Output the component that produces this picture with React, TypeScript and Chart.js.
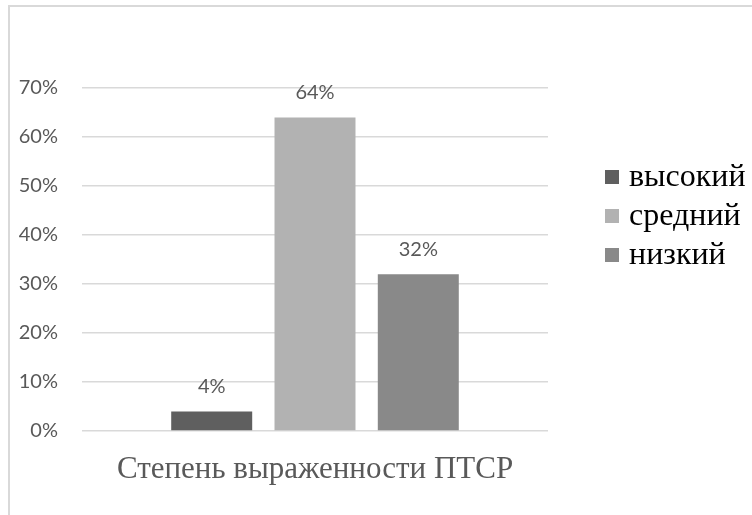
import React, { useEffect, useRef } from "react";
import { Chart, registerables } from "chart.js";

Chart.register(...registerables);

const categories = ["Степень выраженности ПТСР"];
const seriesNames = ["высокий", "средний", "низкий"];
const seriesValues = [[4], [64], [32]];
const seriesColors = ["#5f5f5f", "#b2b2b2", "#898989"];
const yTicks = [0, 10, 20, 30, 40, 50, 60, 70];

const dataLabels = {
  id: "dataLabels",
  afterDatasetsDraw(chart: any) {
    const ctx = chart.ctx;
    ctx.save();
    ctx.font = "20px Lato";
    ctx.fillStyle = "#595959";
    ctx.textAlign = "center";
    ctx.textBaseline = "middle";
    chart.data.datasets.forEach((ds: any, i: number) => {
      const meta = chart.getDatasetMeta(i);
      meta.data.forEach((bar: any, j: number) => {
        ctx.fillText(ds.data[j] + "%", bar.x, bar.y - 25);
      });
    });
    ctx.restore();
  },
};

const sideLegend = {
  id: "sideLegend",
  afterDraw(chart: any) {
    const ctx = chart.ctx;
    ctx.save();
    ctx.font = "32px 'Liberation Serif', serif";
    ctx.textAlign = "left";
    ctx.textBaseline = "middle";
    chart.data.datasets.forEach((ds: any, i: number) => {
      const cy = 177 + i * 39;
      ctx.fillStyle = ds.backgroundColor;
      ctx.fillRect(605, cy - 7, 14, 14);
      ctx.fillStyle = "#000000";
      ctx.fillText(ds.label, 629, cy + 1);
    });
    ctx.restore();
  },
};

export default function App() {
  const ref = useRef<HTMLCanvasElement>(null);
  useEffect(() => {
    if (!ref.current) return;
    const chart = new Chart(ref.current, {
      type: "bar",
      data: {
        labels: categories,
        datasets: seriesNames.map((name, i) => ({
          label: name,
          data: seriesValues[i],
          backgroundColor: seriesColors[i],
          categoryPercentage: 0.665,
          barPercentage: 0.784,
        })),
      },
      options: {
        animation: false,
        responsive: true,
        maintainAspectRatio: false,
        layout: { padding: { top: 88, right: 204, bottom: 0, left: 0 } },
        plugins: { legend: { display: false }, tooltip: { enabled: false } },
        scales: {
          x: {
            grid: { display: false, drawTicks: false },
            border: { display: false },
            ticks: {
              color: "#595959",
              font: { family: "'Liberation Serif', serif", size: 31 },
              padding: 20,
            },
            afterFit: (s: any) => {
              s.height = 84;
            },
          },
          y: {
            min: 0,
            max: 70,
            afterBuildTicks: (s: any) => {
              s.ticks = yTicks.map((v) => ({ value: v }));
            },
            grid: { color: "#d9d9d9", lineWidth: 1.5, drawTicks: false },
            border: { display: false },
            ticks: {
              color: "#595959",
              font: { family: "Lato", size: 20 },
              padding: 24,
              callback: (v: any) => v + "%",
            },
            afterFit: (s: any) => {
              s.width = 82;
            },
          },
        },
      },
      plugins: [dataLabels, sideLegend],
    });
    return () => chart.destroy();
  }, []);
  return (
    <div style={{ position: "fixed", left: 0, top: 0, width: 752, height: 515, background: "#fff", overflow: "hidden" }}>
      <div
        style={{
          position: "absolute",
          left: 8,
          top: 5,
          right: -10,
          bottom: -10,
          borderTop: "2px solid #d9d9d9",
          borderLeft: "2px solid #d9d9d9",
        }}
      />
      <div style={{ position: "absolute", left: 0, top: 0, width: 752, height: 515 }}>
        <canvas ref={ref} />
      </div>
    </div>
  );
}
